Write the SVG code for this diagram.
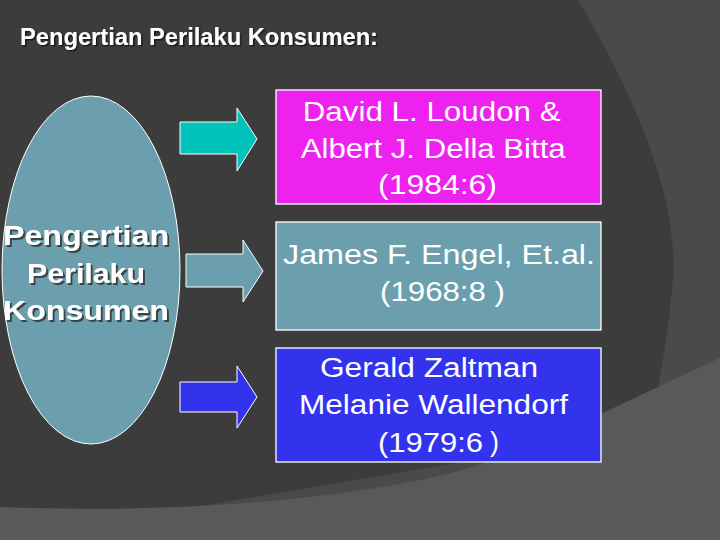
<svg xmlns="http://www.w3.org/2000/svg" width="720" height="540" viewBox="0 0 720 540">
<defs>
<filter id="ds" x="-10%" y="-30%" width="130%" height="170%">
<feDropShadow dx="2" dy="2" stdDeviation="0.3" flood-color="#333333" flood-opacity="0.85"/>
</filter>
<filter id="ds2" x="-10%" y="-30%" width="130%" height="170%">
<feDropShadow dx="1.5" dy="1.5" stdDeviation="0.3" flood-color="#151515" flood-opacity="0.9"/>
</filter>
</defs>
<style>
.t{font-family:"Liberation Sans",Arial,sans-serif;fill:#ffffff;font-size:27px}
.b{font-family:"Liberation Sans",Arial,sans-serif;font-weight:bold;fill:#ffffff}
.box{stroke:#ffffff;stroke-width:1.3}
.arr{stroke:#ffffff;stroke-width:1}
</style>
<rect x="0" y="0" width="720" height="540" fill="#4a4a4a"/>
<path d="M0,0 L578,0 Q685,180 672,290 Q665,360 650,430 L0,540 Z" fill="#3c3c3c"/>
<path d="M0,507 C200,515 420,495 520,450 C580,425 650,390 720,358 L720,540 L0,540 Z" fill="#595959"/>
<g id="title">
<text class="b" filter="url(#ds2)" x="20" y="45" font-size="24" textLength="358" lengthAdjust="spacingAndGlyphs">Pengertian Perilaku Konsumen:</text>
</g>
<g id="connectors">
<path class="arr" d="M180,122 L237,122 L237,108 L257,139 L237,171 L237,154 L180,154 Z" fill="#00c4bc"/>
<path class="arr" d="M186,254 L243,254 L243,240 L263,271 L243,302 L243,287 L186,287 Z" fill="#6b9fae"/>
<path class="arr" d="M180,382 L237,382 L237,366 L257,397 L237,428 L237,412 L180,412 Z" fill="#3333ee"/>
</g>
<g id="node-konsumen">
<ellipse cx="91" cy="270" rx="89" ry="174" fill="#6b9fae" stroke="#ffffff" stroke-width="1"/>
<g class="b" font-size="28" filter="url(#ds)">
<text class="b" x="3" y="245" textLength="166" lengthAdjust="spacingAndGlyphs">Pengertian</text>
<text class="b" x="27" y="283" textLength="118" lengthAdjust="spacingAndGlyphs">Perilaku</text>
<text class="b" x="3" y="320" textLength="166" lengthAdjust="spacingAndGlyphs">Konsumen</text>
</g>
</g>
<g id="node-loudon">
<rect class="box" x="276" y="90" width="325" height="114" fill="#ee22ee"/>
<text class="t" x="302.7" y="120.5" textLength="258" lengthAdjust="spacingAndGlyphs">David L. Loudon &amp;</text>
<text class="t" x="300.7" y="157.5" textLength="265" lengthAdjust="spacingAndGlyphs">Albert J. Della Bitta</text>
<text class="t" x="378" y="194" textLength="119" lengthAdjust="spacingAndGlyphs">(1984:6)</text>
</g>
<g id="node-engel">
<rect class="box" x="276" y="222" width="325" height="108" fill="#6b9fae"/>
<text class="t" x="283" y="264" textLength="312" lengthAdjust="spacingAndGlyphs">James F. Engel, Et.al.</text>
<text class="t" x="380" y="301" textLength="125" lengthAdjust="spacingAndGlyphs">(1968:8 )</text>
</g>
<g id="node-zaltman">
<rect class="box" x="276" y="348" width="325" height="114" fill="#3333ee"/>
<text class="t" x="320" y="377" textLength="218" lengthAdjust="spacingAndGlyphs">Gerald Zaltman</text>
<text class="t" x="299" y="414" textLength="269" lengthAdjust="spacingAndGlyphs">Melanie Wallendorf</text>
<text class="t" x="378" y="452" textLength="105" lengthAdjust="spacingAndGlyphs">(1979:6</text>
<text class="t" x="490" y="451" font-size="14">)</text>
</g>
</svg>
